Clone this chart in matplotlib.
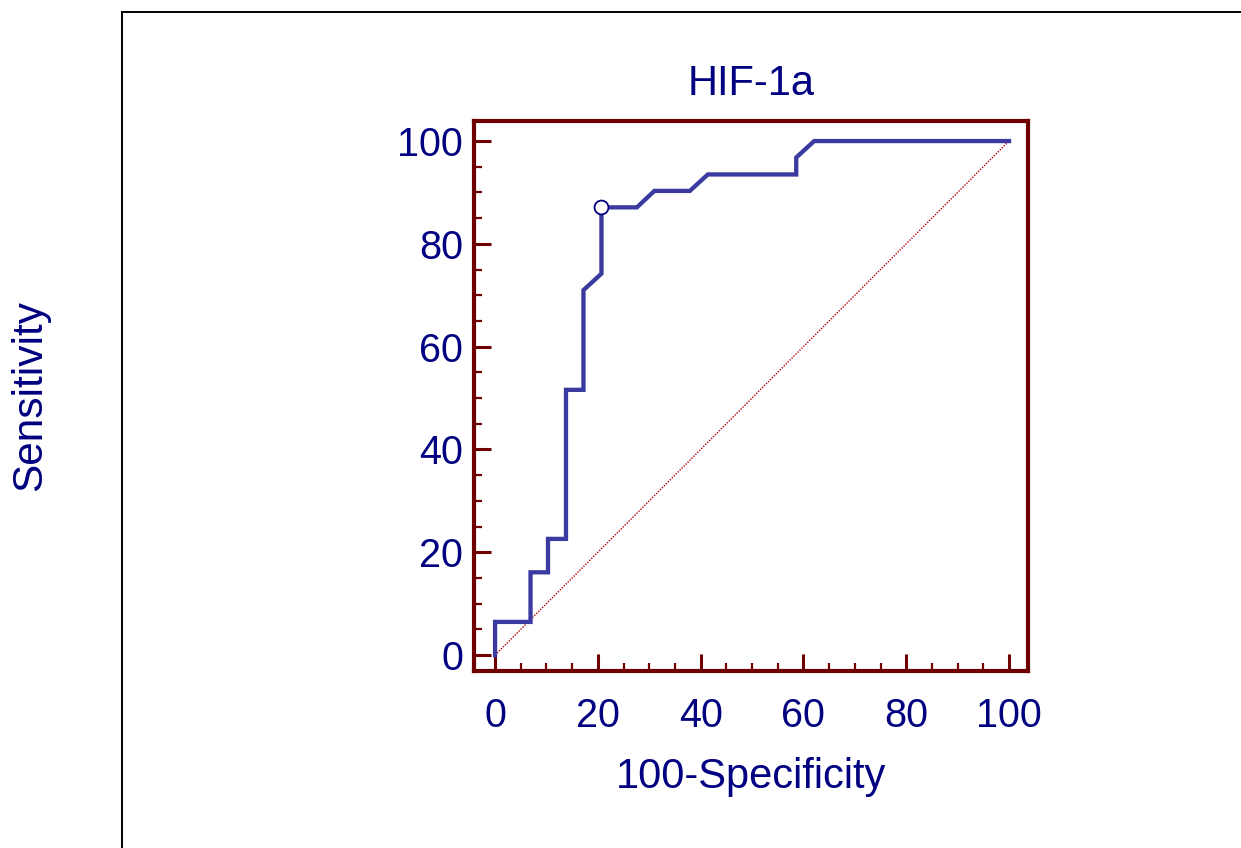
import matplotlib
matplotlib.use("Agg")
import matplotlib.pyplot as plt
from matplotlib.lines import Line2D
from matplotlib.ticker import MultipleLocator

# ROC curve points (100-Specificity, Sensitivity)
fpr = [0, 0, 6.9, 6.9, 10.3, 10.3, 13.8, 13.8, 17.2, 17.2, 20.7, 20.7,
       27.6, 31.0, 37.9, 41.4, 58.6, 58.6, 62.1, 100]
tpr = [0, 6.45, 6.45, 16.1, 16.1, 22.6, 22.6, 51.6, 51.6, 71.0, 74.2, 87.1,
       87.1, 90.3, 90.3, 93.5, 93.5, 96.8, 100, 100]
# optimal cut-off point
cut_x = [20.7]
cut_y = [87.1]
ref_line = [0, 100]
ticks = [0, 20, 40, 60, 80, 100]

navy = '#000080'
frame = '#700000'
curve = '#3a3aa0'

plt.rcParams['font.family'] = ['Liberation Sans', 'DejaVu Sans']

W, H = 1241, 848
fig = plt.figure(figsize=(W / 100, H / 100), dpi=100)
ax = fig.add_axes([474 / W, 1 - 671 / H, (1028 - 474) / W, (671 - 121) / H])

# outer black frame (cut off at right/bottom)
fig.add_artist(Line2D([122 / W, 122 / W], [1 - 12 / H, 0], color='black', lw=1.4))
fig.add_artist(Line2D([122 / W, 1], [1 - 12 / H, 1 - 12 / H], color='black', lw=1.4))

ax.plot(ref_line, ref_line, color='#b00000', lw=1.0, ls=(0, (1, 1)))
ax.plot(fpr, tpr, color=curve, lw=3.1, solid_joinstyle='miter')
ax.plot(cut_x, cut_y, 'o', ms=10, mfc='white', mec=navy, mew=1.3)

ax.set_xlim(-4.1, 103.7)
ax.set_ylim(-3.1, 103.9)
ax.set_xticks(ticks)
ax.set_yticks(ticks)
ax.xaxis.set_minor_locator(MultipleLocator(5))
ax.yaxis.set_minor_locator(MultipleLocator(5))
ax.tick_params(which='both', direction='in', color=frame, top=False, right=False)
ax.tick_params(which='major', length=12, width=2.2, labelsize=28.5, labelcolor=navy, pad=8)
ax.tick_params(which='minor', length=6, width=1.6)
ax.tick_params(axis='x', which='major', pad=19)
for s in ax.spines.values():
    s.set_color(frame)
    s.set_linewidth(3)

ax.set_title('HIF-1a', fontsize=30, color=navy, pad=19)
ax.set_xlabel('100-Specificity', fontsize=30, color=navy, va='center')
ax.set_ylabel('Sensitivity', fontsize=30.5, color=navy, va='center')
ax.xaxis.set_label_coords(0.5, (671 - 777) / 550)
ax.yaxis.set_label_coords((30 - 474) / 554, 0.5)

fig.savefig('out.png', dpi=100)
plt.close(fig)
